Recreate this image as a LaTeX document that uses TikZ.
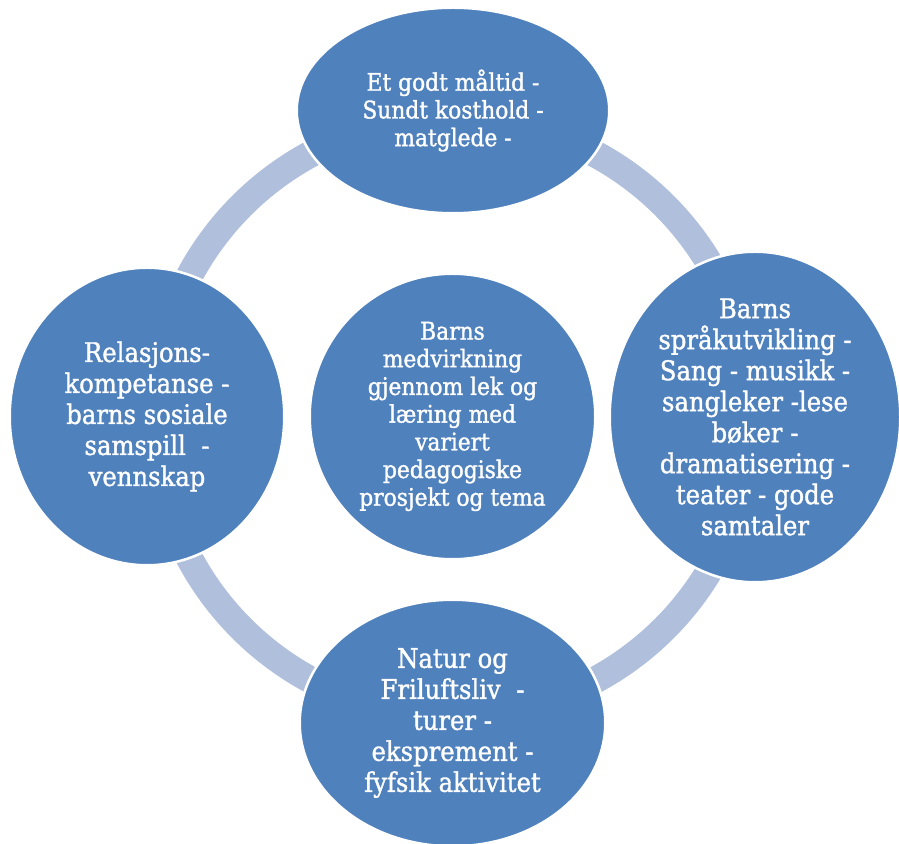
\documentclass[tikz,border=0pt]{standalone}
\usepackage{fontspec}
\setmainfont{DejaVu Serif}[FakeStretch=0.9, FakeBold=1.3]
\usetikzlibrary{shapes.geometric}
\definecolor{nodeblue}{RGB}{79,129,189}
\definecolor{ringblue}{RGB}{176,192,220}
\begin{document}
\begin{tikzpicture}[x=1pt,y=1pt,
  bubble/.style={ellipse, fill=nodeblue, draw=white, line width=2.5pt, inner sep=0pt},
  bigtxt/.style={text=white, align=center, inner sep=0pt, font=\fontsize{27}{31}\selectfont},
  smalltxt/.style={text=white, align=center, inner sep=0pt, font=\fontsize{24.2}{27.7}\selectfont},
  ring/.style={draw=ringblue, line width=27pt}]
\useasboundingbox (0,0) rectangle (899,843);
\coordinate (c) at (453,426);
% connecting arcs of the cycle
\draw[ring] ([shift={(113:299)}]c) arc[start angle=113, end angle=157, radius=299];
\draw[ring] ([shift={(24:299)}]c) arc[start angle=24, end angle=67, radius=299];
\draw[ring] ([shift={(-24:299)}]c) arc[start angle=-24, end angle=-67, radius=299];
\draw[ring] ([shift={(-113:299)}]c) arc[start angle=-113, end angle=-157, radius=299];
% bubbles
\node[bubble, minimum width=312.5pt, minimum height=205.5pt] (top) at (453,732.5) {};
\node[bubble, minimum width=274.5pt, minimum height=297.5pt] (left) at (147,426.5) {};
\node[bubble, minimum width=285.5pt, minimum height=285.5pt] (mid) at (452.5,426.5) {};
\node[bubble, minimum width=290.5pt, minimum height=330.5pt] (right) at (755,426) {};
\node[bubble, minimum width=305.5pt, minimum height=246.5pt] (bottom) at (452.5,120) {};
% texts
\node[smalltxt] (toptxt) at (top.center) {Et godt måltid -\\Sundt kosthold -\\matglede -};
\node[bigtxt] (lefttxt) at (left.center) {Relasjons-\\kompetanse -\\barns sosiale\\samspill\ \ -\\vennskap};
\node[smalltxt] (midtxt) at (mid.center) {Barns\\medvirkning\\gjennom lek og\\læring med\\variert\\pedagogiske\\prosjekt og tema};
\node[bigtxt] (righttxt) at (right.center) {Barns\\språkutvikling -\\Sang - musikk -\\sangleker -lese\\bøker -\\dramatisering -\\teater - gode\\samtaler};
\node[bigtxt] (bottomtxt) at (bottom.center) {Natur og\\Friluftsliv\ \ -\\turer -\\eksprement -\\fyfsik aktivitet};
\end{tikzpicture}
\end{document}
